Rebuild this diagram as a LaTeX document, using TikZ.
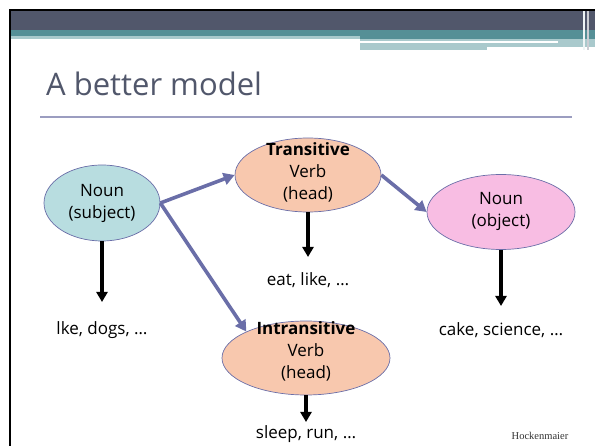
\documentclass[tikz,border=0pt]{standalone}
\usepackage{fontspec}
\setmainfont{Open Sans}
\newfontfamily\serifname{Liberation Serif}
\usetikzlibrary{arrows.meta,shapes.geometric}
\definecolor{slate}{HTML}{51576B}
\definecolor{tealb}{HTML}{558F96}
\definecolor{lightb}{HTML}{A9C9CC}
\definecolor{rulec}{HTML}{9B9DC0}
\definecolor{edgec}{HTML}{6A6EA8}
\definecolor{subjc}{HTML}{B8DDE0}
\definecolor{verbc}{HTML}{F8C8AE}
\definecolor{objc}{HTML}{F8BDE3}
\tikzset{
  ell/.style={ellipse, draw=edgec, line width=0.7pt, minimum width=#1},
  lbl/.style={font=\fontsize{17}{22}\selectfont, text=black, align=center},
  down/.style={-{Triangle[length=10pt,width=11pt]}, line width=3.4pt, black},
  blue/.style={-{Triangle[length=11pt,width=12pt]}, line width=3.6pt, edgec},
}
\begin{document}
\begin{tikzpicture}[x=1pt,y=-1pt]
\useasboundingbox (0,0) rectangle (595,446);
% header bands
\fill[slate] (10,10) rectangle (595,30);
\fill[tealb] (10,30) rectangle (360,36);
\fill[lightb] (10,36) rectangle (360,39);
\fill[tealb] (360,30) rectangle (595,39);
\fill[lightb] (360,39) rectangle (595,47);
\fill[lightb] (360,47) rectangle (487,50);
\fill[white] (360,41) rectangle (558,43);
\fill[white!80!lightb] (583,10) rectangle (585,50);
\fill[white!70!slate] (587,10) rectangle (589,50);
\draw[black, line width=2.4pt] (10,446) -- (10,10) -- (595,10);
% title
\node[anchor=base west, text=slate, font=\fontsize{31}{36}\selectfont, inner sep=0pt] (title) at (46,96) {A better model};
\draw[rulec, line width=2pt] (40,117) -- (572,117);
% nodes
\node[ell=116pt, minimum height=76pt, fill=subjc, lbl, inner sep=0pt] (subj) at (102,203) {};
\node[lbl] (subjt) at (102,203) {Noun\\(subject)};
\node[ell=146pt, minimum height=74pt, fill=verbc, inner sep=0pt] (tv) at (308,175) {};
\node[lbl] (tvt) at (308,172) {\textbf{Transitive}\\Verb\\(head)};
\node[ell=148pt, minimum height=75pt, fill=objc, inner sep=0pt] (obj) at (501,212) {};
\node[lbl] (objt) at (501,211) {Noun\\(object)};
\node[ell=168pt, minimum height=74pt, fill=verbc, inner sep=0pt] (iv) at (306,358) {};
\node[lbl] (ivt) at (306,351) {\textbf{Intransitive}\\Verb\\(head)};
% word lists
\node[lbl] (subjw) at (102,330) {lke, dogs, …};
\node[lbl] (tvw) at (308,280) {eat, like, …};
\node[lbl] (objw) at (501,330) {cake, science, …};
\node[lbl] (ivw) at (306,434) {sleep, run, …};
\node[font=\serifname\fontsize{10.5}{12}\selectfont, text=black!80] (auth) at (540,436) {Hockenmaier};
% arrows
\coordinate (s1) at (102,302);
\coordinate (t1) at (308,257);
\coordinate (o1) at (501,306);
\coordinate (i1) at (306,422);
\draw[down] (subj.south) -- (s1);
\draw[down] (tv.south) -- (t1);
\draw[down] (obj.south) -- (o1);
\draw[down] (iv.south) -- (i1);
\draw[blue] (subj.east) -- (tv.west);
\draw[blue] (subj.east) -- (iv.north west);
\draw[blue] (tv.east) -- (obj.west);
\end{tikzpicture}
\end{document}
